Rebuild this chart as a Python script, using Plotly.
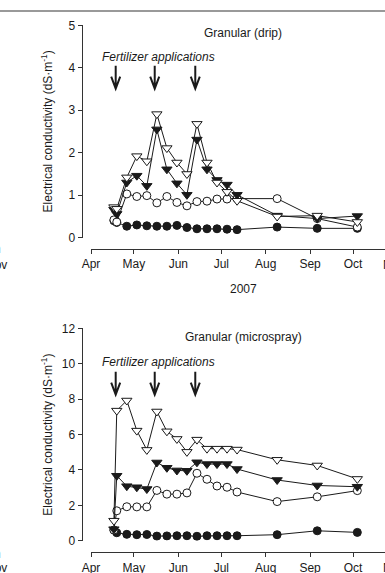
import plotly.graph_objects as go

# ---------------- data ----------------
dates = ["2007-04-17", "2007-04-19", "2007-04-26", "2007-05-03", "2007-05-10", "2007-05-17",
         "2007-05-24", "2007-05-31", "2007-06-07", "2007-06-14", "2007-06-21", "2007-06-28",
         "2007-07-05", "2007-07-12", "2007-08-09", "2007-09-06", "2007-10-04"]

# Granular (drip)
drip_open_tri = [0.72, 0.68, 1.42, 1.92, 1.80, 2.91, 2.11, 1.77, 1.50, 2.68, 1.77, 1.30, 1.08, 0.87, 0.50, 0.52, 0.37]
drip_filled_tri = [0.66, 0.56, 1.30, 1.46, 1.22, 2.55, 1.61, 1.28, 1.01, 2.31, 1.61, 1.36, 1.25, 1.01, 0.52, 0.45, 0.51]
drip_open_circ = [0.42, 0.37, 1.03, 0.97, 0.99, 0.82, 0.97, 0.83, 0.75, 0.85, 0.86, 0.91, 0.91, 0.92, 0.92, 0.45, 0.25]
drip_filled_circ = [0.40, 0.36, 0.27, 0.30, 0.28, 0.27, 0.27, 0.29, 0.24, 0.21, 0.21, 0.21, 0.20, 0.19, 0.25, 0.22, 0.22]

# Granular (microspray)
micro_open_tri = [1.13, 7.35, 7.92, 6.22, 5.13, 7.30, 6.18, 5.75, 5.02, 5.71, 5.20, 5.20, 5.20, 5.15, 4.57, 4.25, 3.49]
micro_filled_tri = [0.65, 3.67, 3.08, 3.02, 2.92, 4.42, 4.12, 3.97, 3.95, 4.43, 4.33, 4.33, 4.33, 4.05, 3.43, 3.12, 3.05]
micro_open_circ = [0.60, 1.69, 1.92, 1.91, 1.91, 2.84, 2.63, 2.63, 2.70, 3.81, 3.47, 3.09, 3.02, 2.75, 2.21, 2.48, 2.83]
micro_filled_circ = [0.60, 0.45, 0.36, 0.34, 0.35, 0.26, 0.27, 0.28, 0.28, 0.25, 0.28, 0.28, 0.28, 0.28, 0.34, 0.56, 0.47]

fert_dates = ["2007-04-18 06:00", "2007-05-15 12:00", "2007-06-12 20:00"]

month_ticks = ["2007-04-01", "2007-05-01", "2007-06-01", "2007-07-01", "2007-08-01", "2007-09-01", "2007-10-01"]
month_labels = ["Apr", "May", "Jun", "Jul", "Aug", "Sep", "Oct"]
y_ticks_top = [0, 1, 2, 3, 4, 5]
y_ticks_bot = [0, 2, 4, 6, 8, 10, 12]
year_label = "2007"
titles = ["Granular (drip)", "Granular (microspray)"]

# ---------------- figure ----------------
W, H = 385, 573
FONT = "Liberation Sans, Arial, sans-serif"
INK = "#1a1a1a"

def px_x(p):
    return p / W

def px_y(p):
    return (H - p) / H

fig = go.Figure()

def add_series(xa, ya, vals, symbol, fill, size):
    fig.add_trace(go.Scatter(
        x=dates, y=vals, xaxis=xa, yaxis=ya, mode="lines+markers",
        line=dict(color=INK, width=1),
        marker=dict(symbol=symbol, size=size, color=fill, line=dict(color=INK, width=1)),
        showlegend=False, hoverinfo="skip"))

for xa, ya, fc, oc, ft, ot in [("x", "y", drip_filled_circ, drip_open_circ, drip_filled_tri, drip_open_tri),
                               ("x2", "y2", micro_filled_circ, micro_open_circ, micro_filled_tri, micro_open_tri)]:
    add_series(xa, ya, fc, "circle", INK, 8)
    add_series(xa, ya, oc, "circle", "white", 8)
    add_series(xa, ya, ft, "triangle-down", INK, 9)
    add_series(xa, ya, ot, "triangle-down", "white", 9)

x_range = ["2007-04-01", "2007-10-23 08:00"]
xcommon = dict(range=x_range, type="date", tickvals=month_ticks, ticktext=month_labels,
               showgrid=False, zeroline=False, showline=True, linecolor="#333", linewidth=1,
               ticks="outside", ticklen=4, tickcolor="#333", tickfont=dict(family=FONT, size=12, color=INK),
               domain=[px_x(91), 1], anchor="free", automargin=False)
ycommon = dict(showgrid=False, zeroline=False, showline=True, linecolor="#333", linewidth=1,
               ticks="outside", ticklen=4, tickcolor="#333", tickfont=dict(family=FONT, size=12, color=INK),
               anchor="free", position=px_x(81.5), automargin=False)

fig.update_layout(
    width=W, height=H, margin=dict(l=0, r=0, t=0, b=0),
    paper_bgcolor="white", plot_bgcolor="white", showlegend=False,
    xaxis=dict(**xcommon, position=px_y(248.5)),
    xaxis2=dict(**xcommon, position=px_y(552.3)),
    yaxis=dict(**ycommon, range=[0, 5], tickvals=y_ticks_top,
               domain=[px_y(237.7), px_y(25.3)]),
    yaxis2=dict(**ycommon, range=[0, 12], tickvals=y_ticks_bot,
                domain=[px_y(540.7), px_y(328.3)]),
)

ann = []
def txt(text, x, y, xanchor="center", italic=False, angle=0, size=12):
    ann.append(dict(text=text, x=x, y=y, xref="paper", yref="paper", xanchor=xanchor,
                    yanchor="middle", showarrow=False, textangle=angle,
                    font=dict(family=FONT, size=size, color=INK,
                              style="italic" if italic else "normal")))

ytitle = "Electrical conductivity (dS·m<sup>-1</sup>)"
# top panel
txt(titles[0], px_x(243), px_y(33))
txt("Fertilizer applications", px_x(100), px_y(56.7), xanchor="left", italic=True)
txt(ytitle, px_x(46.7), px_y(131.7), angle=-90)
txt(year_label, px_x(243), px_y(289.5))
txt("Nov", px_x(380.5), px_y(265), xanchor="left")
txt("Nov", px_x(8.5), px_y(265), xanchor="right")
txt("n", px_x(3), px_y(249.5), xanchor="right")
# bottom panel
txt(titles[1], px_x(243.5), px_y(336.7))
txt("Fertilizer applications", px_x(100), px_y(361.7), xanchor="left", italic=True)
txt(ytitle, px_x(46.7), px_y(435), angle=-90)
txt("Nov", px_x(380.5), px_y(567.7), xanchor="left")
txt("Nov", px_x(8.5), px_y(567.7), xanchor="right")
txt("n", px_x(3), px_y(553.5), xanchor="right")
fig.update_layout(annotations=ann)

shapes = [dict(type="line", xref="paper", yref="paper", x0=0, x1=1, y0=px_y(11), y1=px_y(11),
               line=dict(color="#777", width=1.3))]
for xr, yr, ytop in [("x", "y", 4.05), ("x2", "y2", 9.55)]:
    for d in fert_dates:
        shapes.append(dict(type="path", xref=xr, yref=yr, xsizemode="pixel", ysizemode="pixel",
                           xanchor=d, yanchor=ytop,
                           path="M0,0 L0,-23 M-4.5,-11 L0,-23 L4.5,-11",
                           line=dict(color=INK, width=2)))
fig.update_layout(shapes=shapes)

fig.write_html("out.html")
